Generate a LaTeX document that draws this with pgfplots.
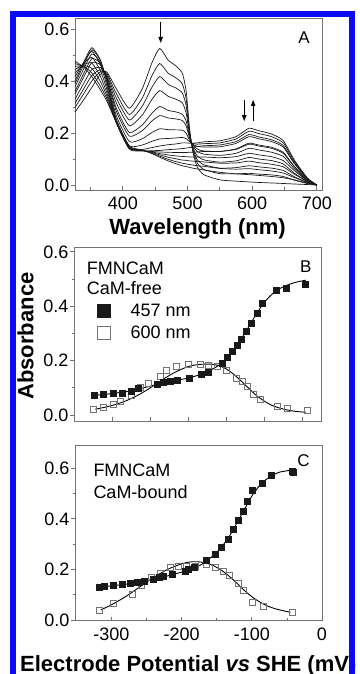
\documentclass[border=0pt]{standalone}
\usepackage{fontspec}
\setmainfont{Liberation Sans}
\usepackage{pgfplots}
\usepackage{pgfplotstable}
\pgfplotsset{compat=1.18}
\usetikzlibrary{arrows.meta}
\definecolor{frameblue}{RGB}{10,10,245}
\definecolor{axgray}{RGB}{115,115,115}

\pgfplotstableread{
lam c1 c2 c3 c4 c5 c6 c7 c8 c9 c10 c11 c12 c13 c14 c15
326 .280 .298 .314 .330 .350 .360 .378 .390 .400 .416 .430 .444 .456 .467 .476
340 .330 .353 .372 .393 .417 .431 .449 .464 .474 .474 .469 .464 .459 .455 .452
352 .375 .400 .421 .444 .471 .486 .504 .520 .528 .514 .491 .469 .449 .431 .417
365 .425 .435 .443 .452 .463 .469 .474 .480 .482 .464 .441 .419 .399 .381 .367
375 .435 .430 .425 .420 .415 .412 .405 .401 .397 .384 .370 .356 .344 .333 .324
390 .370 .351 .334 .315 .295 .283 .266 .253 .244 .240 .240 .240 .240 .240 .240
410 .295 .271 .250 .228 .202 .188 .167 .151 .141 .138 .141 .143 .146 .148 .149
430 .370 .334 .303 .269 .231 .209 .178 .154 .137 .131 .132 .133 .134 .134 .135
445 .470 .420 .376 .329 .276 .246 .202 .168 .144 .132 .129 .127 .125 .122 .121
457 .525 .467 .417 .363 .302 .267 .216 .177 .150 .133 .127 .121 .116 .111 .107
470 .480 .430 .387 .341 .287 .258 .213 .179 .155 .136 .126 .116 .107 .099 .093
482 .458 .412 .373 .330 .281 .254 .212 .181 .158 .138 .125 .112 .101 .090 .082
492 .430 .389 .354 .316 .272 .248 .211 .183 .162 .140 .125 .110 .096 .084 .074
498 .360 .330 .304 .276 .245 .227 .199 .178 .162 .142 .125 .109 .095 .081 .071
503 .220 .212 .204 .196 .188 .182 .173 .167 .161 .144 .126 .108 .093 .079 .068
508 .130 .136 .140 .146 .151 .155 .157 .160 .161 .146 .126 .108 .092 .077 .065
515 .070 .085 .098 .112 .129 .138 .149 .157 .162 .148 .127 .108 .091 .074 .062
525 .040 .060 .078 .097 .119 .131 .146 .159 .166 .151 .129 .108 .089 .072 .058
550 .020 .044 .065 .088 .114 .129 .147 .162 .170 .154 .129 .105 .084 .064 .049
575 .015 .043 .067 .093 .122 .139 .160 .177 .186 .167 .137 .109 .085 .061 .043
595 .012 .045 .074 .106 .141 .161 .186 .207 .218 .194 .157 .122 .092 .063 .040
610 .010 .042 .070 .100 .135 .154 .178 .198 .209 .185 .150 .116 .086 .059 .037
630 .008 .039 .065 .094 .126 .145 .167 .186 .196 .174 .141 .109 .080 .054 .033
648 .006 .033 .056 .081 .110 .126 .146 .162 .171 .152 .122 .094 .070 .046 .028
665 .004 .019 .032 .046 .063 .072 .083 .092 .097 .087 .071 .056 .042 .029 .020
685 .002 .006 .010 .014 .018 .021 .024 .027 .028 .025 .021 .017 .014 .011 .008
700 .000 .000 .000 .000 .000 .000 .000 .000 .000 .000 .000 .000 .000 .000 .000
}\spectra

\pgfplotstableread{
mv a
-324 .073
-312 .076
-298 .080
-287 .082
-275 .089
-265 .098
-241 .113
-232 .120
-223 .125
-214 .129
-199 .135
-183 .151
-173 .159
-155 .190
-149 .212
-142 .233
-135 .257
-130 .278
-124 .310
-117 .339
-109 .376
-103 .411
-84 .459
-71 .465
-46 .483
}\Bfull

\pgfplotstableread{
mv a
-324 .021
-312 .028
-298 .040
-289 .049
-275 .074
-263 .102
-252 .116
-236 .143
-228 .163
-215 .178
-199 .188
-184 .186
-173 .184
-162 .178
-149 .165
-136 .135
-129 .123
-122 .104
-114 .076
-105 .058
-83 .031
-70 .025
-43 .018
}\Bopen

\pgfplotstableread{
mv a
-324 .072
-300 .079
-275 .089
-250 .106
-225 .122
-200 .136
-185 .148
-170 .166
-160 .182
-150 .207
-140 .240
-130 .280
-120 .325
-110 .372
-100 .413
-90 .443
-80 .464
-70 .477
-60 .487
-45 .496
}\Bfitfull

\pgfplotstableread{
mv a
-322 .021
-300 .035
-280 .054
-260 .082
-240 .118
-220 .153
-200 .178
-185 .186
-170 .187
-160 .182
-150 .170
-140 .150
-130 .125
-120 .098
-110 .072
-100 .052
-90 .036
-75 .022
-60 .014
-45 .010
}\Bfitopen

\pgfplotstableread{
mv a
-317 .131
-310 .135
-297 .137
-285 .141
-273 .145
-263 .148
-254 .155
-241 .161
-232 .170
-226 .174
-214 .181
-195 .194
-190 .201
-182 .207
-165 .238
-152 .262
-143 .288
-133 .321
-126 .359
-119 .394
-113 .432
-106 .469
-99 .513
-85 .542
-73 .571
-43 .588
-41 .585
}\Cfull

\pgfplotstableread{
mv a
-317 .040
-298 .066
-271 .103
-257 .136
-243 .168
-231 .185
-216 .209
-205 .214
-193 .211
-181 .211
-165 .222
-152 .209
-141 .192
-132 .178
-119 .143
-112 .119
-99 .070
-83 .055
-43 .029
}\Copen

\pgfplotstableread{
mv a
-315 .130
-290 .138
-265 .147
-240 .160
-215 .178
-195 .193
-180 .207
-165 .232
-150 .268
-140 .300
-130 .340
-120 .390
-110 .440
-100 .490
-90 .528
-80 .555
-70 .573
-60 .585
-45 .592
}\Cfitfull

\pgfplotstableread{
mv a
-315 .040
-300 .060
-280 .092
-260 .130
-240 .168
-220 .200
-200 .222
-185 .230
-170 .228
-155 .215
-140 .190
-125 .155
-110 .115
-95 .082
-80 .058
-65 .043
-45 .030
}\Cfitopen

\pgfplotsset{
  panel/.style={
    scale only axis, width=247pt,
    axis line style={axgray, line width=0.8pt},
    tick style={axgray, line width=0.8pt},
    tick align=outside, tick pos=left,
    major tick length=4pt, minor tick length=2.5pt,
    every major x tick/.append style={yshift=4pt},
    every minor x tick/.append style={yshift=2.5pt},
    ytick={0,0.2,0.4,0.6}, yticklabels={0.0,0.2,0.4,0.6},
    minor ytick={0.1,0.3,0.5},
    tick label style={font=\fontsize{18}{18}\selectfont},
    yticklabel style={inner sep=0pt, xshift=-1.5pt},
    xticklabel style={inner sep=0pt, yshift=-3pt},
    clip=false,
  },
  spec/.style={black!90, line width=0.7pt, smooth, tension=0.35, forget plot},
  fit/.style={black, line width=0.9pt, smooth, tension=0.5, forget plot},
  full/.style={only marks, mark=square*, mark size=3pt, mark options={draw=black!90, fill=black!90}, forget plot},
  open/.style={only marks, mark=square, mark size=3pt, mark options={draw=black!55, line width=0.6pt}, forget plot},
}

\begin{document}
\begin{tikzpicture}
\useasboundingbox (0pt,0pt) rectangle (359pt,674pt);

% Panel A
\begin{axis}[panel, at={(75pt,484pt)}, anchor=south west, height=172pt,
  xmin=326, xmax=708, ymin=-0.019, ymax=0.642,
  xtick={400,500,600,700}, xticklabels={400,500,600,700},
  minor xtick={350,450,550,650}]
\pgfplotsinvokeforeach{1,...,15}{
  \addplot[spec] table[x=lam, y=c#1] {\spectra};
}
\draw[-{Triangle[length=6pt,width=4.5pt]}, line width=0.8pt] (axis cs:458.5,0.627) -- (axis cs:458.5,0.546);
\draw[-{Triangle[length=6pt,width=4.5pt]}, line width=0.8pt] (axis cs:587.7,0.327) -- (axis cs:587.7,0.246);
\draw[-{Triangle[length=6pt,width=4.5pt]}, line width=0.8pt] (axis cs:601.5,0.246) -- (axis cs:601.5,0.327);
\end{axis}

% Panel B
\begin{axis}[panel, at={(74pt,253pt)}, anchor=south west, height=174pt,
  xmin=-350, xmax=-25, ymin=-0.022, ymax=0.618,
  xtick={-300,-250,-200,-150,-100,-50}, xticklabels={,,},
  legend style={at={(axis cs:-320,0.414)}, anchor=north west, draw=none, fill=none,
    inner sep=0pt, font=\fontsize{18}{18}\selectfont, row sep=5pt,
    nodes={inner sep=1.5pt}},
  legend cell align=left]
\addplot[fit] table[x=mv, y=a] {\Bfitopen};
\addplot[fit] table[x=mv, y=a] {\Bfitfull};
\addplot[open] table[x=mv, y=a] {\Bopen};
\addplot[full] table[x=mv, y=a] {\Bfull};
\addlegendimage{only marks, mark=square*, mark size=6.5pt, mark options={draw=black!90, fill=black!90}}
\addlegendentry{\hspace{19pt}457 nm}
\addlegendimage{only marks, mark=square, mark size=6.5pt, mark options={draw=black!55, line width=0.8pt}}
\addlegendentry{\hspace{19pt}600 nm}
\end{axis}

% Panel C
\begin{axis}[panel, at={(75pt,53.3pt)}, anchor=south west, height=175.7pt,
  xmin=-352, xmax=0, ymin=-0.003, ymax=0.692,
  xtick={-300,-200,-100,0}, xticklabels={-300,-200,-100,0},
  minor xtick={-250,-150,-50}]
\addplot[fit] table[x=mv, y=a] {\Cfitopen};
\addplot[fit] table[x=mv, y=a] {\Cfitfull};
\addplot[open] table[x=mv, y=a] {\Copen};
\addplot[full] table[x=mv, y=a] {\Cfull};
\end{axis}

% texts
\node[anchor=base, font=\bfseries\fontsize{22}{22}\selectfont] at (197.5pt,439pt) {Wavelength (nm)};
\node[anchor=base, rotate=90, font=\bfseries\fontsize{22}{22}\selectfont] at (33.3pt,338pt) {Absorbance};
\node[anchor=base west, inner sep=0pt, font=\bfseries\fontsize{22}{22}\selectfont] at (20pt,2.5pt) {Electrode Potential \textit{vs} SHE (mV)};
\node[anchor=base, font=\fontsize{17}{17}\selectfont] at (304pt,630.7pt) {A};
\node[anchor=base, font=\fontsize{17}{17}\selectfont] at (305.8pt,401.3pt) {B};
\node[anchor=base, font=\fontsize{17}{17}\selectfont] at (303.5pt,207pt) {C};
\node[anchor=base west, inner sep=0pt, font=\fontsize{18}{18}\selectfont] at (86.7pt,399pt) {FMNCaM};
\node[anchor=base west, inner sep=0pt, font=\fontsize{18}{18}\selectfont] at (86.7pt,379pt) {CaM-free};
\node[anchor=base west, inner sep=0pt, font=\fontsize{18}{18}\selectfont] at (93.3pt,197.3pt) {FMNCaM};
\node[anchor=base west, inner sep=0pt, font=\fontsize{18}{18}\selectfont] at (93.3pt,175.7pt) {CaM-bound};

% blue frame
\draw[frameblue, line width=6pt] (12.5pt,-20pt) -- (12.5pt,660pt) -- (351.5pt,660pt) -- (351.5pt,-20pt);
\end{tikzpicture}
\end{document}
